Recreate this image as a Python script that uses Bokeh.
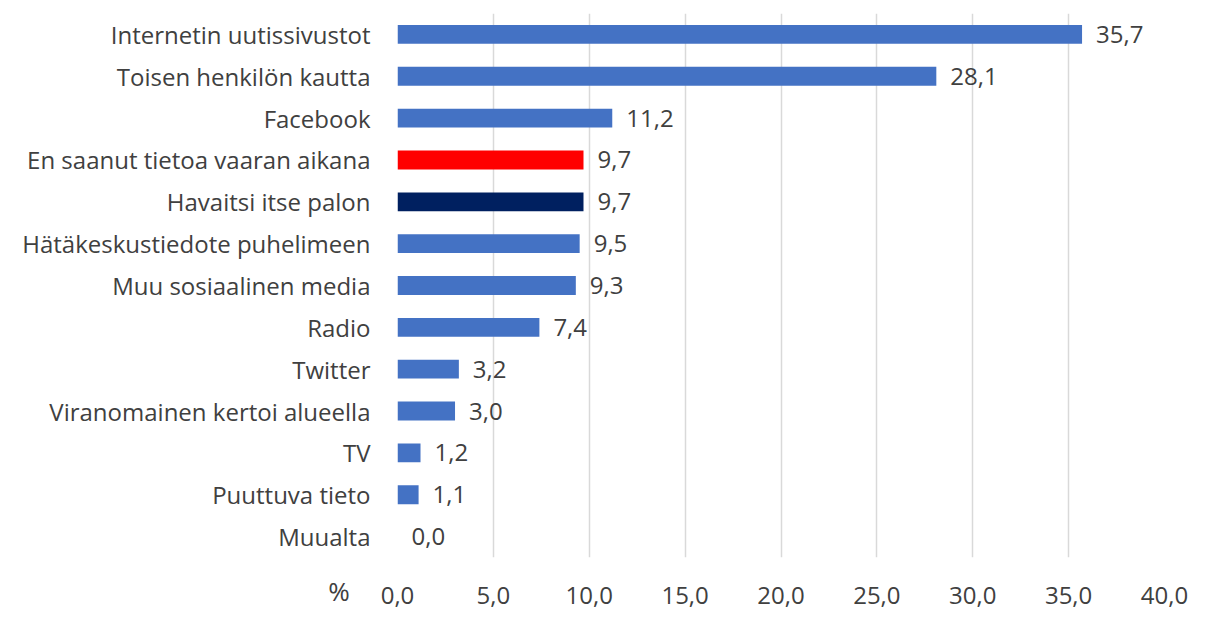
from bokeh.plotting import figure
from bokeh.models import ColumnDataSource, LabelSet, Label, FixedTicker
from bokeh.core.properties import value
from bokeh.embed import file_html
from bokeh.resources import INLINE

categories = ["Internetin uutissivustot", "Toisen henkilön kautta", "Facebook",
              "En saanut tietoa vaaran aikana", "Havaitsi itse palon",
              "Hätäkeskustiedote puhelimeen", "Muu sosiaalinen media", "Radio",
              "Twitter", "Viranomainen kertoi alueella", "TV", "Puuttuva tieto", "Muualta"]
values = [35.7, 28.1, 11.2, 9.7, 9.7, 9.5, 9.3, 7.4, 3.2, 3.0, 1.2, 1.1, 0.0]
colors = ["#4472C4", "#4472C4", "#4472C4", "#FF0000", "#002060", "#4472C4", "#4472C4",
          "#4472C4", "#4472C4", "#4472C4", "#4472C4", "#4472C4", "#4472C4"]
x_ticks = [0, 5, 10, 15, 20, 25, 30, 35, 40]
x_tick_labels = ["0,0", "5,0", "10,0", "15,0", "20,0", "25,0", "30,0", "35,0", "40,0"]
unit_label = "%"

FONT = "Open Sans"
TXT = "#404040"
FS = "24px"

src = ColumnDataSource(dict(cat=categories, val=values, col=colors,
                            lab=[f"{v:.1f}".replace(".", ",") for v in values]))

p = figure(width=1199, height=612, y_range=list(reversed(categories)), x_range=(0, 40),
           output_backend="svg", toolbar_location=None,
           min_border_left=397, min_border_right=35, min_border_top=13, min_border_bottom=55)
p.frame_width = 767
p.frame_height = 544

p.hbar(y="cat", right="val", left=0, height=0.45, fill_color="col", line_color=None,
       source=src)

p.add_layout(LabelSet(x="val", y="cat", text="lab", source=src, x_offset=14,
                      text_baseline="middle", text_align="left",
                      text_font=value(FONT), text_font_size=value(FS),
                      text_color=value(TXT)))

p.xaxis.ticker = FixedTicker(ticks=x_ticks)
p.xaxis.major_label_overrides = {t: l for t, l in zip(x_ticks, x_tick_labels)}
for ax in (p.xaxis, p.yaxis):
    ax.axis_line_color = None
    ax.major_tick_line_color = None
    ax.minor_tick_line_color = None
    ax.major_label_text_font = FONT
    ax.major_label_text_font_size = FS
    ax.major_label_text_color = TXT
p.yaxis.major_label_standoff = 21
p.xaxis.major_label_standoff = 23

p.xgrid.grid_line_color = "#D9D9D9"
p.xgrid.grid_line_width = 1.5
p.ygrid.grid_line_color = None
p.outline_line_color = None

p.add_layout(Label(x=-3.05, y=-0.8, text=unit_label,
                   text_font=FONT, text_font_size="26px",
                   text_color=TXT, text_align="center", text_baseline="middle"), "below")

open("out.html", "w").write(file_html(p, INLINE))
